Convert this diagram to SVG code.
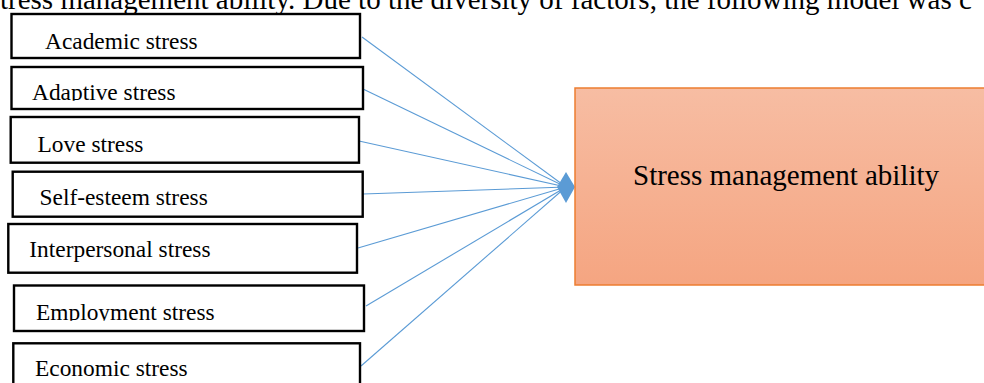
<svg xmlns="http://www.w3.org/2000/svg" width="984" height="383" viewBox="0 0 984 383">
<style>
.box{fill:#fff;stroke:#000;stroke-width:2.4}
.lbl{font-family:"Liberation Serif","Times New Roman",serif;font-size:23.4px;fill:#000}
.big{font-family:"Liberation Serif","Times New Roman",serif;font-size:29px;fill:#000}
.conn{stroke:#5B9BD5;stroke-width:1.1;fill:none}
</style>
<defs>
<linearGradient id="g" x1="0" y1="0" x2="0" y2="1">
<stop offset="0" stop-color="#F7BDA3"/>
<stop offset="1" stop-color="#F5A581"/>
</linearGradient>
<clipPath id="c2"><rect x="0" y="60" width="400" height="40.8"/></clipPath>
<clipPath id="c6"><rect x="0" y="280" width="400" height="40.8"/></clipPath>
</defs>
<text class="big" x="0" y="8.5">tress management ability. Due to the diversity of factors, the following model was c</text>
<g id="connectors">
<line class="conn" x1="362" y1="37" x2="566" y2="187"/>
<line class="conn" x1="363" y1="89" x2="566" y2="187"/>
<line class="conn" x1="359" y1="141" x2="566" y2="187"/>
<line class="conn" x1="363" y1="194" x2="566" y2="187"/>
<line class="conn" x1="358" y1="248" x2="566" y2="187"/>
<line class="conn" x1="366" y1="306" x2="566" y2="187"/>
<line class="conn" x1="361" y1="366" x2="566" y2="187"/>
<polygon points="557,187 566,172 575,187 566,203" fill="#5B9BD5"/>
</g>
<g id="n1"><rect class="box" x="11.5" y="14" width="348.5" height="44"/><text class="lbl" x="45" y="48.5">Academic stress</text></g>
<g id="n2"><rect class="box" x="11.5" y="67" width="351.5" height="42"/><text class="lbl" x="32" y="100" clip-path="url(#c2)">Adaptive stress</text></g>
<g id="n3"><rect class="box" x="10.7" y="117" width="348.3" height="45.7"/><text class="lbl" x="37.5" y="151.7">Love stress</text></g>
<g id="n4"><rect class="box" x="12.7" y="171.7" width="350" height="45"/><text class="lbl" x="39.5" y="205">Self-esteem stress</text></g>
<g id="n5"><rect class="box" x="8.3" y="224" width="348.7" height="48.7"/><text class="lbl" x="29.3" y="257.3">Interpersonal stress</text></g>
<g id="n6"><rect class="box" x="14" y="285.5" width="350" height="45.5"/><text class="lbl" x="36" y="320" clip-path="url(#c6)">Employment stress</text></g>
<g id="n7"><rect class="box" x="13.3" y="343.3" width="346.7" height="50"/><text class="lbl" x="35" y="376">Economic stress</text></g>
<g id="target"><rect x="575" y="88" width="420" height="197" fill="url(#g)" stroke="#ED7D31" stroke-width="1.5"/><text class="big" x="633" y="185">Stress management ability</text></g>
</svg>
